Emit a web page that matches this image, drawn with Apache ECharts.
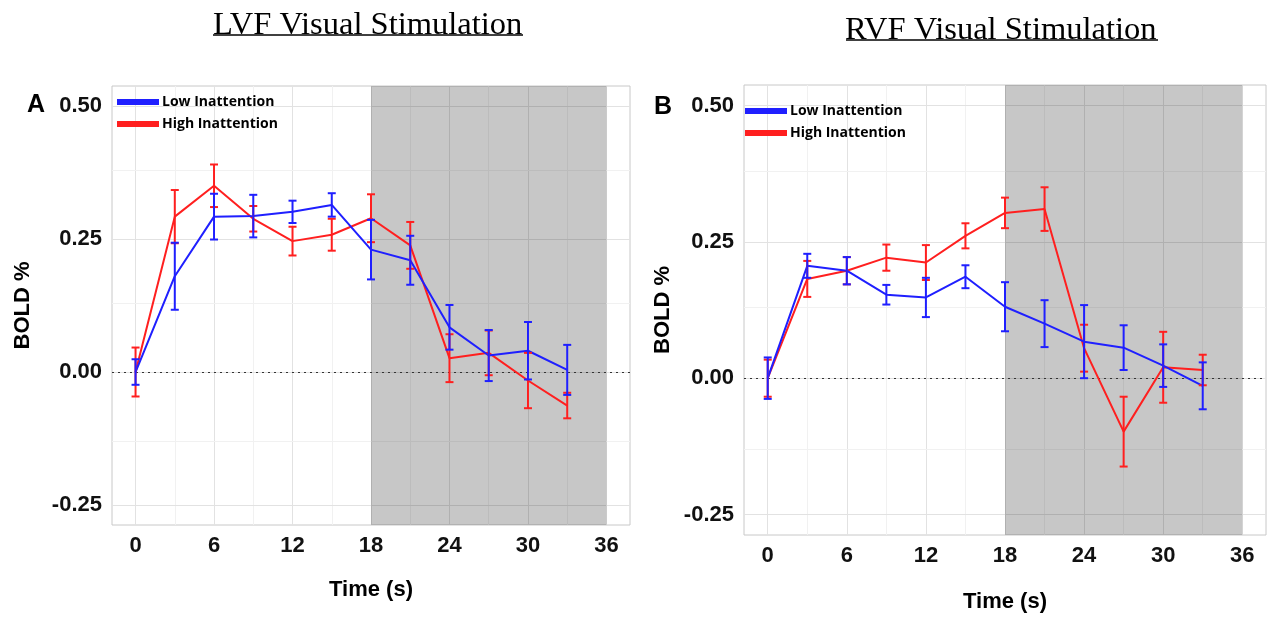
<!DOCTYPE html>
<html>
<head>
<meta charset="utf-8">
<script src="https://cdn.jsdelivr.net/npm/echarts@6/dist/echarts.min.js"></script>
<style>
  html, body { margin: 0; padding: 0; background: #fff; }
  #chart { width: 1272px; height: 618px; }
</style>
</head>
<body>
<div id="chart"></div>
<script>
// time points (s)
var times = [0, 3, 6, 9, 12, 15, 18, 21, 24, 27, 30, 33];
var xTicks = [0, 6, 12, 18, 24, 30, 36];
var yTicks = [-0.25, 0, 0.25, 0.5];
var offWindow = [18, 36];

// panel A - LVF
var lowMeanA = [0.0, 0.18, 0.292, 0.293, 0.301, 0.314, 0.230, 0.210, 0.084, 0.031, 0.040, 0.004];
var lowErrA = [0.024, 0.063, 0.043, 0.040, 0.021, 0.022, 0.056, 0.046, 0.042, 0.048, 0.054, 0.047];
var highMeanA = [0.0, 0.292, 0.350, 0.288, 0.246, 0.258, 0.289, 0.238, 0.026, 0.036, -0.016, -0.063];
var highErrA = [0.046, 0.050, 0.040, 0.024, 0.027, 0.030, 0.045, 0.044, 0.045, 0.042, 0.052, 0.024];

// panel B - RVF
var lowMeanB = [0.0, 0.206, 0.197, 0.153, 0.148, 0.186, 0.131, 0.100, 0.067, 0.056, 0.023, -0.014];
var lowErrB = [0.038, 0.022, 0.025, 0.018, 0.036, 0.021, 0.045, 0.043, 0.067, 0.041, 0.039, 0.043];
var highMeanB = [0.0, 0.182, 0.197, 0.221, 0.212, 0.261, 0.303, 0.310, 0.055, -0.098, 0.020, 0.015];
var highErrB = [0.034, 0.033, 0.025, 0.024, 0.032, 0.023, 0.028, 0.040, 0.043, 0.064, 0.065, 0.028];

var BLUE = '#1f1fff';
var RED = '#ff1f1f';
var SANS = "'Liberation Sans', Arial, sans-serif";

function pairs(mean) {
  return times.map(function (t, i) { return [t, mean[i]]; });
}
function bars(mean, err) {
  return times.map(function (t, i) { return [t, mean[i] - err[i], mean[i] + err[i]]; });
}

// error bar with caps
function makeErrorBar(color) {
  return function (params, api) {
    var x = api.value(0);
    var top = api.coord([x, api.value(2)]);
    var bot = api.coord([x, api.value(1)]);
    var w = 4;
    function seg(x1, y1, x2, y2) {
      return {
        type: 'line',
        shape: { x1: x1, y1: y1, x2: x2, y2: y2 },
        style: { stroke: color, lineWidth: 2, fill: null }
      };
    }
    return {
      type: 'group',
      children: [
        seg(top[0], top[1], bot[0], bot[1]),
        seg(top[0] - w, top[1], top[0] + w, top[1]),
        seg(bot[0] - w, bot[1], bot[0] + w, bot[1])
      ]
    };
  };
}

function gridLines() {
  var lines = [];
  var major = { color: '#e2e2e2', width: 1, type: 'solid' };
  var minor = { color: '#f1f1f1', width: 1, type: 'solid' };
  xTicks.forEach(function (v, i) {
    lines.push({ xAxis: v, lineStyle: major });
    if (i < xTicks.length - 1) lines.push({ xAxis: (v + xTicks[i + 1]) / 2, lineStyle: minor });
  });
  yTicks.forEach(function (v, i) {
    lines.push({ yAxis: v, lineStyle: major });
    if (i < yTicks.length - 1) lines.push({ yAxis: (v + yTicks[i + 1]) / 2, lineStyle: minor });
  });
  return lines;
}

function panelSeries(idx, lowMean, lowErr, highMean, highErr) {
  return [{
    name: 'grid' + idx,
    type: 'line',
    xAxisIndex: idx, yAxisIndex: idx,
    data: [],
    silent: true,
    z: 1,
    markLine: {
      z: 1,
      silent: true, symbol: 'none', label: { show: false },
      animation: false,
      data: gridLines()
    }
  }, {
    name: 'shade' + idx,
    type: 'line',
    xAxisIndex: idx, yAxisIndex: idx,
    data: [],
    silent: true,
    z: 2,
    markArea: {
      z: 2,
      silent: true,
      itemStyle: { color: 'rgba(0,0,0,0.22)' },
      data: [[{ xAxis: offWindow[0] }, { xAxis: offWindow[1] }]]
    },
    markLine: {
      z: 2,
      silent: true, symbol: 'none', label: { show: false },
      animation: false,
      data: [{ yAxis: 0, lineStyle: { color: '#333', width: 1.2, type: [2, 4] } }]
    }
  }, {
    name: 'High Inattention',
    type: 'line',
    xAxisIndex: idx, yAxisIndex: idx,
    data: pairs(highMean),
    symbol: 'none',
    color: RED,
    lineStyle: { width: 2 },
    z: 3
  }, {
    name: 'highErr' + idx,
    type: 'custom',
    xAxisIndex: idx, yAxisIndex: idx,
    renderItem: makeErrorBar(RED),
    data: bars(highMean, highErr),
    z: 4
  }, {
    name: 'Low Inattention',
    type: 'line',
    xAxisIndex: idx, yAxisIndex: idx,
    data: pairs(lowMean),
    symbol: 'none',
    color: BLUE,
    lineStyle: { width: 2 },
    z: 3
  }, {
    name: 'lowErr' + idx,
    type: 'custom',
    xAxisIndex: idx, yAxisIndex: idx,
    renderItem: makeErrorBar(BLUE),
    data: bars(lowMean, lowErr),
    z: 4
  }];
}

var tickStyle = { show: true, length: 4, lineStyle: { color: '#b5b5b5', width: 1 } };

function xAxisFor(idx, gap) {
  return {
    type: 'value', gridIndex: idx,
    min: -1.8, max: 37.8,
    name: 'Time (s)', nameLocation: 'middle', nameGap: gap,
    nameTextStyle: { fontFamily: SANS, fontWeight: 'bold', fontSize: 22, color: '#000' },
    axisLine: { show: false },
    axisTick: Object.assign({}, tickStyle, { customValues: xTicks }),
    axisLabel: { customValues: xTicks, margin: 10, fontFamily: SANS, fontWeight: 'bold', fontSize: 22, color: '#111' },
    splitLine: { show: false }
  };
}
function yAxisFor(idx, gap) {
  return {
    type: 'value', gridIndex: idx,
    min: -0.2875, max: 0.5375,
    name: 'BOLD %', nameLocation: 'middle', nameGap: gap, nameRotate: 90,
    nameTextStyle: { fontFamily: SANS, fontWeight: 'bold', fontSize: 22, color: '#000' },
    axisLine: { show: false },
    axisTick: Object.assign({}, tickStyle, { customValues: yTicks }),
    axisLabel: {
      customValues: yTicks, margin: 10, fontFamily: SANS, fontWeight: 'bold', fontSize: 22, color: '#111',
      formatter: function (v) { return v.toFixed(2); }
    },
    splitLine: { show: false }
  };
}

function legendFor(left, top) {
  return {
    left: left, top: top, orient: 'vertical', padding: 0,
    itemWidth: 42, itemHeight: 6, itemGap: 8, icon: 'rect',
    data: ['Low Inattention', 'High Inattention'],
    textStyle: { fontFamily: "'Open Sans', 'Noto Sans', sans-serif", fontWeight: 'bold', fontSize: 14, color: '#000', padding: [0, 0, 0, -2] }
  };
}

var titleStyle = { fontFamily: "'Liberation Serif', 'Times New Roman', serif", fontWeight: 'normal', fontSize: 32.5, color: '#000' };
var letterStyle = { fontFamily: SANS, fontWeight: 'bold', fontSize: 25, color: '#000' };

const myChart = echarts.init(document.getElementById('chart'));
const option = {
  animation: false,
  backgroundColor: '#fff',
  title: [
    { text: 'LVF Visual Stimulation', left: 213, top: 9, textStyle: titleStyle, padding: 0 },
    { text: 'RVF Visual Stimulation', left: 845, top: 14, textStyle: titleStyle, padding: 0 },
    { text: 'A', left: 27, top: 93, textStyle: letterStyle, padding: 0 },
    { text: 'B', left: 654, top: 95, textStyle: letterStyle, padding: 0 }
  ],
  graphic: [
    { type: 'line', shape: { x1: 213, y1: 35, x2: 523, y2: 35 }, style: { stroke: '#000', lineWidth: 1.5 } },
    { type: 'line', shape: { x1: 846, y1: 40, x2: 1158, y2: 40 }, style: { stroke: '#000', lineWidth: 1.5 } }
  ],
  legend: [legendFor(117, 95), legendFor(745, 104)],
  grid: [
    { left: 112, top: 86, width: 518, height: 439, show: true, borderColor: '#c8c8c8', borderWidth: 1, backgroundColor: '#fff' },
    { left: 744, top: 85, width: 522, height: 452, show: true, borderColor: '#c8c8c8', borderWidth: 1, backgroundColor: '#fff' }
  ],
  xAxis: [xAxisFor(0, 54), xAxisFor(1, 56)],
  yAxis: [yAxisFor(0, 78), yAxisFor(1, 70)],
  series: panelSeries(0, lowMeanA, lowErrA, highMeanA, highErrA)
    .concat(panelSeries(1, lowMeanB, lowErrB, highMeanB, highErrB))
};
myChart.setOption(option);
window.addEventListener('resize', function () {
  myChart.resize();
});
</script>
</body>
</html>
